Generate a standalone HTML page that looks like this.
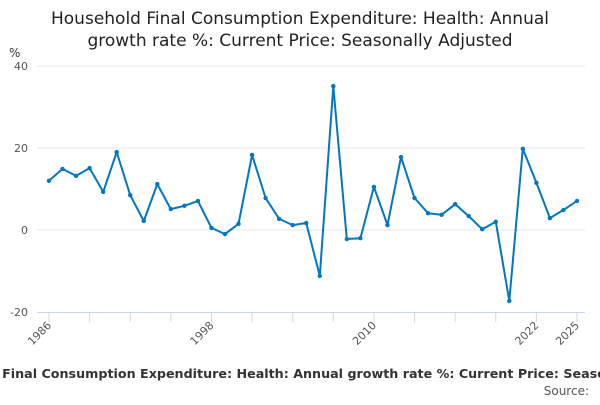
<!DOCTYPE html>
<html><head><meta charset="utf-8"><style>
body{margin:0;background:#fff;font-family:"Liberation Sans","DejaVu Sans",sans-serif;overflow:hidden}
svg text{font-family:"DejaVu Sans","Liberation Sans",sans-serif}
</style></head><body>
<svg width="600" height="400" xmlns="http://www.w3.org/2000/svg">
<text x="300" y="24" text-anchor="middle" font-size="17" fill="#222">Household Final Consumption Expenditure: Health: Annual</text>
<text x="300" y="46" text-anchor="middle" font-size="17" fill="#222">growth rate %: Current Price: Seasonally Adjusted</text>
<text x="9" y="57" font-size="12" fill="#333">%</text>
<g id="grid"></g><g id="xax"></g><g id="series"></g>
<text x="-78" y="378" font-size="12.7" font-weight="bold" fill="#333">Household Final Consumption Expenditure: Health: Annual growth rate %: Current Price: Seasonally Adjusted</text>
<text x="589" y="395" text-anchor="end" font-size="12" fill="#555">Source:</text>
</svg>
<script>
const years=[];for(let y=1986;y<=2025;y++)years.push(y);
const values=[12,14.9,13.2,15.1,9.3,19,8.5,2.2,11.2,5.1,5.9,7.1,0.5,-1,1.5,18.3,7.8,2.7,1.2,1.7,-11.2,35.1,-2.2,-2,10.5,1.2,17.8,7.8,4.1,3.7,6.3,3.4,0.2,2,-17.3,19.8,11.5,2.9,4.9,7.1];
const yTicks=[-20,0,20,40];
const xLabels=[1986,1998,2010,2022,2025];
const NS="http://www.w3.org/2000/svg";
const X=y=>49+(y-1986)*(528/39);
const Y=v=>230-v*4.1;
function mk(t,a,p){const e=document.createElementNS(NS,t);for(const k in a)e.setAttribute(k,a[k]);p.appendChild(e);return e;}
const g=document.getElementById('grid'),xa=document.getElementById('xax'),s=document.getElementById('series');
yTicks.forEach(v=>{
 if(v!==-20){const l=mk('line',{x1:37,x2:585,y1:Y(v),y2:Y(v),stroke:'#e6e6e6'},g);
 
 }
 const t=mk('text',{x:28,y:Y(v)+4,'text-anchor':'end','font-size':11,fill:'#555'},g);t.textContent=v;
 
 
});
const ax=mk('line',{x1:37,x2:585,y1:312.5,y2:312.5,stroke:'#ccd6eb'},xa);


for(let y=1986;y<=2025;y+=3){const t=mk('line',{x1:X(y),x2:X(y),y1:312,y2:322,stroke:'#ccd6eb'},xa);
 
 }
xLabels.forEach(y=>{const t=mk('text',{x:X(y)+3,y:326,'text-anchor':'end','font-size':11,fill:'#555',transform:`rotate(-45 ${X(y)+3} 326)`},xa);t.textContent=y;
 
 });
const d=values.map((v,i)=>(i?'L':'M')+X(years[i]).toFixed(1)+' '+Y(v).toFixed(1)).join(' ');
const p=mk('path',{d:d,fill:'none',stroke:'#0077c0','stroke-width':2,'stroke-linejoin':'round'},s);


values.forEach((v,i)=>{const c=mk('circle',{cx:X(years[i]),cy:Y(v),r:2.2,fill:'#0077c0'},s);
 
 });
</script>
</body></html>
